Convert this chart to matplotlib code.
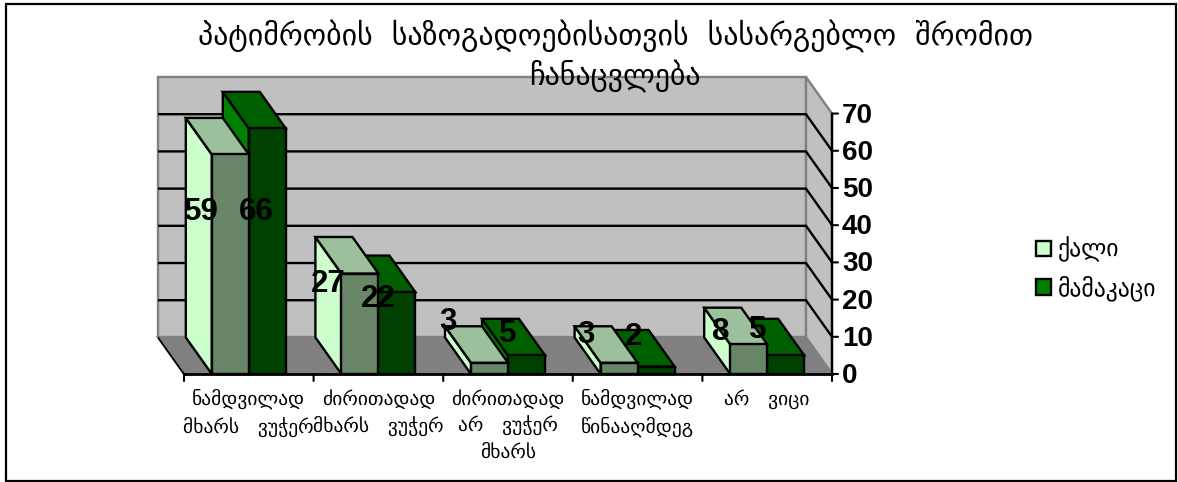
import matplotlib
matplotlib.use("Agg")
import matplotlib.pyplot as plt
from matplotlib.patches import Patch, Rectangle

# Data

categories = ["ნამდვილად\nმხარს   ვუჭერ", "ძირითადად\nმხარს   ვუჭერ", "ძირითადად\nარ   ვუჭერ\nმხარს",
              "ნამდვილად\nწინააღმდეგ", "არ   ვიცი"]
women = [59, 27, 3, 3, 8]
men = [66, 22, 5, 2, 5]
series_names = ["ქალი", "მამაკაცი"]
title = "პატიმრობის  საზოგადოებისათვის  სასარგებლო  შრომით\nჩანაცვლება"
yticks = [0, 10, 20, 30, 40, 50, 60, 70]

# label offsets in pixels from the centre of the front top edge of each bar
women_label_off = [(-29, -58), (-32, -10), (-42, 41), (-33, 28), (-28, 12)]
men_label_off = [(-11, -84), (-19, -7), (-19, 21), (-23, 30), (-28, 25)]

W, H = 1178, 482
GEO = "DejaVu Sans"
plt.rcParams["font.family"] = ["Liberation Sans", "DejaVu Sans"]

fig = plt.figure(figsize=(W / 100, H / 100), dpi=100)
fig.add_artist(Rectangle((6 / W, 1 - 480.5 / H), 1170 / W, 477 / H, fill=False, ec="black", lw=1.6,
                         transform=fig.transFigure))

# axes box: x 158-832 px, y 77-374 px. data x is in categories, y in percent
x0, x1, y0, y1 = 158, 832, 77, 374
ax = fig.add_axes([x0 / W, 1 - y1 / H, (x1 - x0) / W, (y1 - y0) / H])
px_x = 648 / 5
px_y = 260 / 70
dx = -26 / px_x     # depth of the 3d box, going back
dy = 36.5 / px_y
ax.set_xlim(dx, 5)
ax.set_ylim(0, 70 + dy)
ax.axis("off")

edge = "black"
lw = 1.7


def poly(xs, ys, color, ec=edge, z=2, width=lw):
    ax.fill(xs, ys, facecolor=color, edgecolor=ec, linewidth=width, zorder=z, joinstyle="miter", clip_on=False)


# walls and floor
poly([dx, 5 + dx, 5 + dx, dx], [dy, dy, 70 + dy, 70 + dy], "#C0C0C0", "#808080", 1)
poly([5 + dx, 5, 5, 5 + dx], [dy, 0, 70, 70 + dy], "#C0C0C0", "#808080", 1)
poly([dx, 5 + dx, 5, 0], [dy, dy, 0, 0], "#808080", "#808080", 1)

for v in yticks[1:-1]:
    ax.plot([dx, 5 + dx, 5], [v + dy, v + dy, v], color="black", lw=lw, zorder=1.5, solid_joinstyle="miter")

# axes lines and ticks
ax.plot([0, 5], [0, 0], color="black", lw=2, zorder=5, clip_on=False)
ax.plot([5, 5], [0, 70], color="black", lw=lw, zorder=5, clip_on=False)
ax.plot([dx, 0], [dy, 0], color="black", lw=1.2, zorder=1.5)
for i in range(6):
    ax.annotate("", xy=(i, 0), xytext=(0, -7), textcoords="offset pixels",
                arrowprops=dict(arrowstyle="-", lw=1.5, color="black", shrinkA=0, shrinkB=0), zorder=5)
for v in yticks:
    ax.annotate("", xy=(5, v), xytext=(6, 0), textcoords="offset pixels",
                arrowprops=dict(arrowstyle="-", lw=1.5, color="black", shrinkA=0, shrinkB=0), zorder=5)
    ax.annotate(str(v), xy=(5, v), xytext=(10, -2), textcoords="offset pixels", ha="left", va="center",
                fontsize=20, fontweight="bold", zorder=6)

# bars
bar_w = 37 / px_x
gap = (1 - 2 * bar_w) / 2
light = ("#CCFFCC", "#9BC09B", "#688568")
dark = ("#008000", "#006000", "#004000")


def bar(left, value, colors, z):
    right = left + bar_w
    poly([left + dx, left, left, left + dx], [dy, 0, value, value + dy], colors[0], z=z)
    poly([left + dx, right + dx, right, left], [value + dy, value + dy, value, value], colors[1], z=z)
    poly([left, right, right, left], [0, 0, value, value], colors[2], z=z)


for i in range(len(categories)):
    # men first, the women's bar sits over its side face
    bar(i + gap + bar_w, men[i], dark, 3 + i * 0.1)
    bar(i + gap, women[i], light, 3.05 + i * 0.1)
    for left, value, off in ((i + gap, women[i], women_label_off[i]), (i + gap + bar_w, men[i], men_label_off[i])):
        ax.annotate(str(value), xy=(left + bar_w / 2, value), xytext=off, textcoords="offset pixels",
                    ha="center", va="center", fontsize=22.5, fontweight="bold", zorder=8)
    ax.annotate(categories[i], xy=(i + 0.5, 0), xytext=(0, -15), textcoords="offset pixels", ha="center", va="top",
                fontsize=14, family=GEO, linespacing=1.45, zorder=8)

fig.text(615 / W, 1 - 19 / H, title, ha="center", va="top", fontsize=21.5, family=GEO, linespacing=1.3, zorder=10)

handles = [Patch(facecolor=light[0], edgecolor="black", lw=1.7), Patch(facecolor=dark[0], edgecolor="black", lw=1.7)]
fig.legend(handles, series_names, loc="center left", bbox_to_anchor=(1036 / W, 1 - 269 / H), frameon=False,
           prop={"family": GEO, "size": 17}, handlelength=0.62, handleheight=0.62, handletextpad=0.3,
           labelspacing=0.55, borderaxespad=0, borderpad=0)

fig.savefig("out.png", dpi=100)
